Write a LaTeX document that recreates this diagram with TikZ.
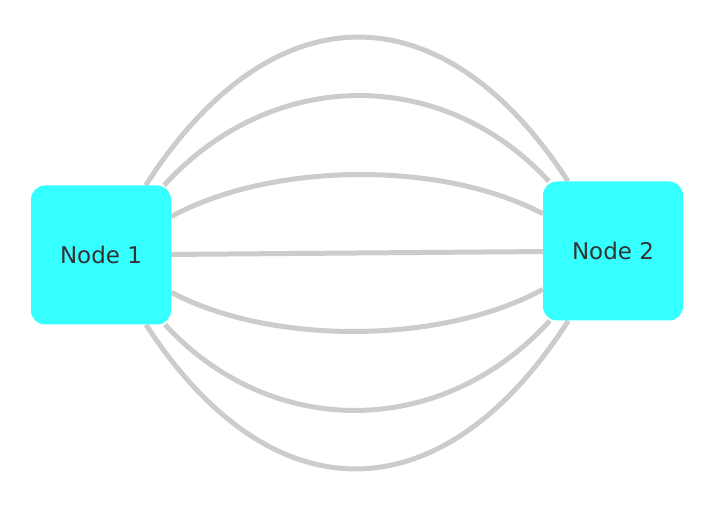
\documentclass[tikz,border=0pt]{standalone}
\usepackage{fontspec}
\setsansfont{DejaVu Sans}
\usetikzlibrary{calc, backgrounds}
\definecolor{nodecolor}{RGB}{54,255,255}
\definecolor{edgecolor}{RGB}{204,204,204}
\definecolor{labelcolor}{RGB}{51,51,51}

\begin{document}
\begin{tikzpicture}[x=1pt, y=-1pt,
    vertex/.style={rectangle, rounded corners=14pt, minimum width=140pt, minimum height=139pt, fill=nodecolor, text=labelcolor, font=\sffamily\fontsize{23}{27}\selectfont},
    link/.style={line width=5pt, edgecolor},
]
    \useasboundingbox (0,0) rectangle (712,510);
    \node[vertex] (n1) at (101,255) {Node 1};
    \node[vertex] (n2) at (613,251) {Node 2};
    \coordinate (mid) at ($(n1)!0.5!(n2)$);
    \begin{pgfonlayer}{background}
    \draw[link] (n1) -- (n2);
    % parallel edges, quadratic bends
    \foreach \h [count=\i] in {-397,-280,-138,138,280,397} {
        \coordinate (c\i) at ($(mid)+(0,\h)$);
        \draw[link] (n1) .. controls ($(n1.center)!2/3!(c\i)$) and ($(n2.center)!2/3!(c\i)$) .. (n2);
    }
    \end{pgfonlayer}
\end{tikzpicture}
\end{document}
